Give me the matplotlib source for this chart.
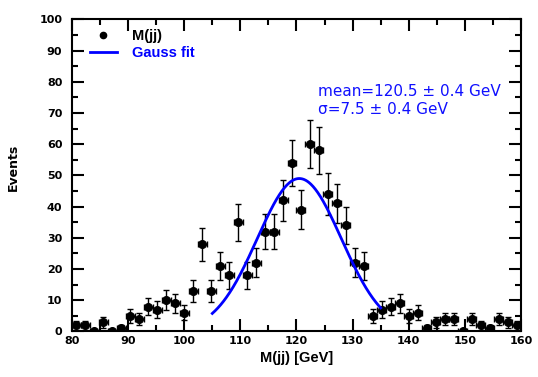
"""Dijet invariant mass M(jj) with a Gaussian fit around the peak."""

import matplotlib

matplotlib.use("Agg")
import matplotlib.pyplot as plt
import numpy as np
from matplotlib.lines import Line2D
from matplotlib.ticker import MultipleLocator

# histogram: 50 bins of 1.6 GeV from 80 to 160
bin_lo = 80.0
bin_width = 1.6
counts = [2, 2, 0, 3, 0, 1, 5, 4, 8, 7,
          10, 9, 6, 13, 28, 13, 21, 18, 35, 18,
          22, 32, 32, 42, 54, 39, 60, 58, 44, 41,
          34, 22, 21, 5, 7, 8, 9, 5, 6, 1,
          3, 4, 4, 0, 4, 2, 1, 4, 3, 2]

# fit result
fit_amp = 49.0
fit_mean = 120.5
fit_sigma = 7.5
fit_range = (105.0, 135.0)
fit_text = ["mean=120.5 \u00b1 0.4 GeV", "\u03c3=7.5 \u00b1 0.4 GeV"]

plt.rcParams["font.family"] = ["Liberation Sans", "DejaVu Sans"]

counts = np.array(counts, dtype=float)
centres = bin_lo + bin_width * (np.arange(len(counts)) + 0.5)
yerr = np.sqrt(counts)

fig = plt.figure(figsize=(5.38, 3.77), dpi=100)
ax = fig.add_axes([0.1338, 0.1207, 0.8346, 0.8281])

ax.errorbar(centres, counts, yerr=yerr, xerr=bin_width / 2, fmt="o",
            color="black", ms=5.5, elinewidth=1.0, capsize=2.2,
            capthick=1.0, zorder=3)

xf = np.linspace(fit_range[0], fit_range[1], 300)
yf = fit_amp * np.exp(-0.5 * ((xf - fit_mean) / fit_sigma) ** 2)
ax.plot(xf, yf, color="#0000ff", lw=2.0, zorder=4)

for ytxt, s in zip([77, 71.2], fit_text):
    ax.text(123.8, ytxt, s, color="#1010ff", fontsize=11,
            family="DejaVu Sans", va="center")

ax.set_xlim(80, 160)
ax.set_ylim(0, 100)
ax.xaxis.set_major_locator(MultipleLocator(10))
ax.xaxis.set_minor_locator(MultipleLocator(5))
ax.yaxis.set_major_locator(MultipleLocator(10))
ax.yaxis.set_minor_locator(MultipleLocator(5))
ax.tick_params(which="both", direction="in", top=True, right=True, width=1.5)
ax.tick_params(which="major", length=8.5, labelsize=8)
ax.tick_params(which="minor", length=4.3)
ax.tick_params(axis="x", which="major", pad=3)
ax.tick_params(axis="y", which="major", pad=7)
for lab in ax.get_xticklabels() + ax.get_yticklabels():
    lab.set_fontweight("bold")
    lab.set_family("DejaVu Sans")
for sp in ax.spines.values():
    sp.set_linewidth(1.5)

ax.set_xlabel("M(jj) [GeV]", fontsize=10.5, fontweight="bold", labelpad=4)
ax.set_ylabel("Events", fontsize=9, fontweight="bold", family="DejaVu Sans")
ax.yaxis.set_label_coords(-0.115, 0.527)

handles = [
    Line2D([], [], ls="none", marker="o", ms=4.5, color="black"),
    Line2D([], [], color="#0000ff", lw=2.0),
]
leg = ax.legend(handles, ["M(jj)", "Gauss fit"], loc="upper left",
                bbox_to_anchor=(0.04, 0.968), frameon=False, fontsize=10.5,
                handlelength=1.85, handletextpad=1.0, labelspacing=0.2,
                borderaxespad=0.0, borderpad=0.0)
for txt, col in zip(leg.get_texts(), ["black", "#0000ff"]):
    txt.set_color(col)
    txt.set_fontweight("bold")

fig.savefig("out.png", dpi=100)
